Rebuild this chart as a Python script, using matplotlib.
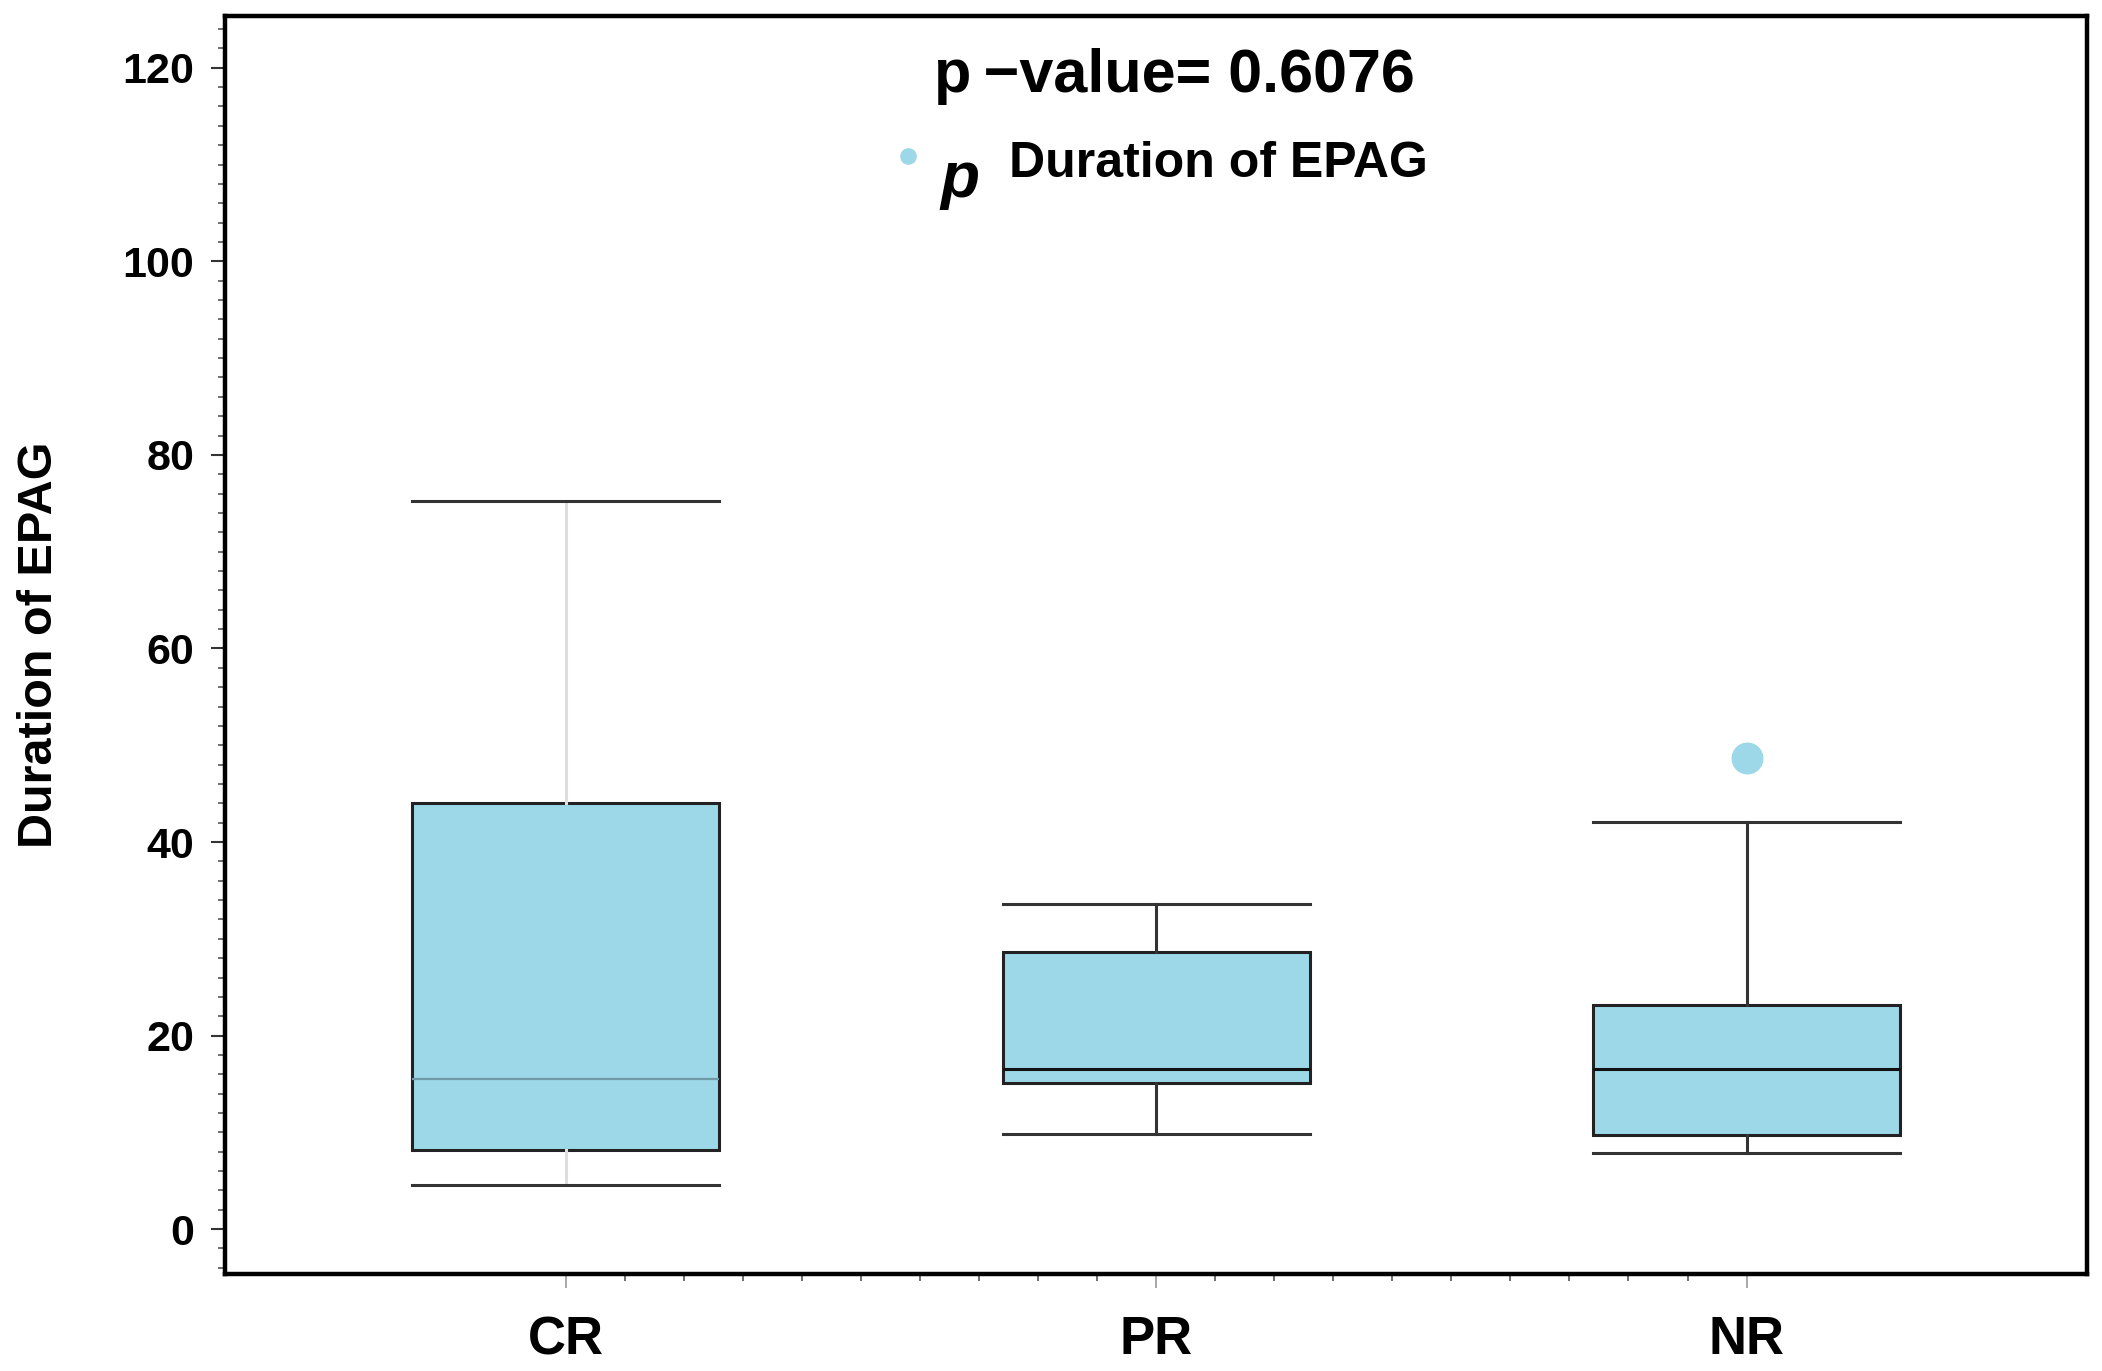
import matplotlib
matplotlib.use("Agg")
import matplotlib.pyplot as plt
from matplotlib.ticker import MultipleLocator, FixedLocator

# ---- data ----
categories = ["CR", "PR", "NR"]
whislo = [4.6, 9.8, 7.9]
q1 = [8.2, 15.1, 9.7]
med = [15.5, 16.5, 16.5]
q3 = [44.0, 28.6, 23.2]
whishi = [75.2, 33.6, 42.1]
outliers = [[], [], [48.7]]
p_text = "p\u2009\u2212value= 0.6076"
series_label = "Duration of EPAG"
yticks = [0, 20, 40, 60, 80, 100, 120]

plt.rcParams['font.family'] = ['Liberation Sans', 'DejaVu Sans']
plt.rcParams['font.weight'] = 'bold'

fill = "#9cd8e7"
fig = plt.figure(figsize=(21.02, 13.71), dpi=100)
ax = fig.add_axes([0.107, 0.071, 0.886, 0.917])

stats = []
for i in range(len(categories)):
    stats.append(dict(label=categories[i], whislo=whislo[i], q1=q1[i], med=med[i],
                      q3=q3[i], whishi=whishi[i], fliers=outliers[i]))

bp = ax.bxp(stats, positions=[1, 2, 3], widths=0.52, patch_artist=True,
            capwidths=0.52,
            boxprops=dict(facecolor=fill, edgecolor="#222222", linewidth=2.2),
            whiskerprops=dict(color="#333333", linewidth=2.2),
            capprops=dict(color="#333333", linewidth=2.2),
            medianprops=dict(color="#111111", linewidth=2.2),
            flierprops=dict(marker="o", markerfacecolor=fill, markeredgecolor=fill,
                            markersize=22))
# CR group drawn with lighter whisker / median
for w in bp['whiskers'][0:2]:
    w.set_color("#dddddd")
bp['medians'][0].set_color("#6f9aa6")
bp['medians'][0].set_linewidth(1.6)

ax.set_xlim(0.423, 3.577)
ax.set_ylim(-4.6, 125.3)
ax.yaxis.set_major_locator(FixedLocator(yticks))
ax.yaxis.set_minor_locator(MultipleLocator(2))
ax.xaxis.set_minor_locator(FixedLocator([1 + 0.1 * k for k in range(21)]))
ax.set_xticks([1, 2, 3])
ax.set_xticklabels(categories)
ax.tick_params(axis='y', which='major', length=10, width=1.5, labelsize=31, pad=12, color="#333333")
ax.tick_params(axis='y', which='minor', length=5, width=1.2, color="#555555")
ax.tick_params(axis='x', which='major', length=10, width=1.2, labelsize=38, pad=20, color="#999999")
ax.tick_params(axis='x', which='minor', length=5, width=1.2, color="#555555")
for lab in ax.get_xticklabels() + ax.get_yticklabels():
    lab.set_fontweight('bold')
for sp in ax.spines.values():
    sp.set_linewidth(3.2)
    sp.set_color("black")

ax.text(0.51, 0.952, p_text, transform=ax.transAxes, ha='center', va='center',
        fontsize=44, fontweight='bold')
ax.plot([0.3667], [0.889], transform=ax.transAxes, marker='o', markersize=11,
        color=fill, linestyle='none', clip_on=False)
ax.text(0.384, 0.870, "p", transform=ax.transAxes, ha='left', va='center',
        fontsize=46, fontweight='bold', fontstyle='italic')
ax.text(0.421, 0.883, series_label, transform=ax.transAxes, ha='left', va='center',
        fontsize=36, fontweight='bold')

fig.text(0.019, 0.530, series_label, rotation=90, ha='center', va='center',
         fontsize=35, fontweight='bold')

fig.savefig("out.png", dpi=100, facecolor="white")
